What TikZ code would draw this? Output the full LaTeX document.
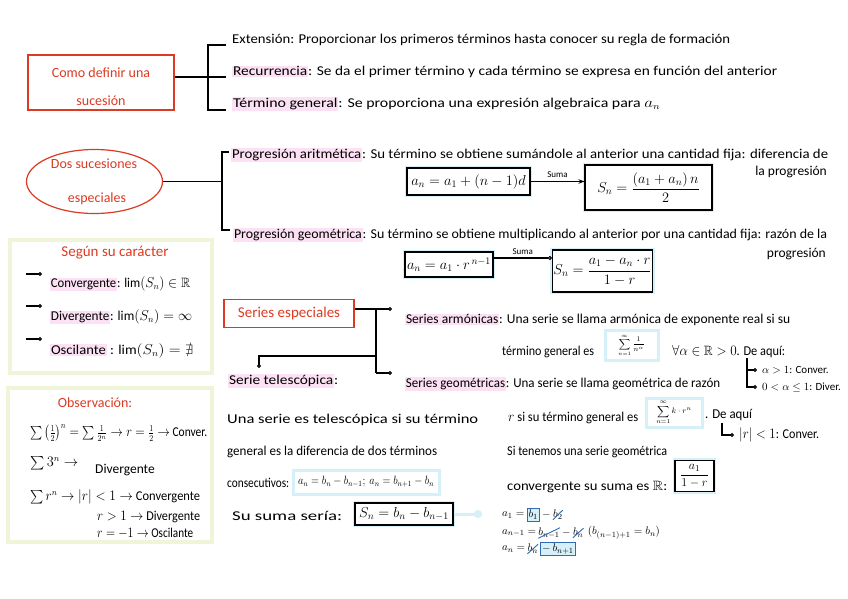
\documentclass[tikz,border=0pt]{standalone}
\usepackage{amsmath,amssymb}
\usepackage{graphicx}
\usepackage{fontspec}
\setmainfont{Carlito}
\usetikzlibrary{arrows.meta,shapes.geometric,positioning}
\definecolor{myred}{HTML}{DC3A22}
\definecolor{hl}{HTML}{FBE1F3}
\definecolor{lgreen}{HTML}{EEF5D9}
\definecolor{lblue}{HTML}{D6F0FA}
\definecolor{mblue}{HTML}{2F6CB3}
\newcommand\hlw[1]{{\setlength{\fboxsep}{0.8pt}\colorbox{hl}{#1}}}
\newcommand\fitw[2]{\resizebox{#1}{\height}{#2}}
\tikzset{
  txt/.style={anchor=west, inner sep=0pt, font=\fontsize{13.5}{16}\selectfont},
  small/.style={font=\fontsize{11}{13}\selectfont},
  redtxt/.style={text=myred, font=\fontsize{14}{16}\selectfont, inner sep=0pt},
  redframe/.style={draw=myred, line width=1.2pt, inner sep=0pt},
  conn/.style={line width=1.1pt, black},
  tipo/.style={-{Circle[open, length=4pt, width=4pt]}},
  frm/.style={draw=black, line width=1.1pt, inner sep=1pt, preaction={draw=lblue, line width=4.5pt}, fill=white, font=\fontsize{14}{16}\selectfont},
  lbbox/.style={draw=lblue, line width=3pt, fill=white, inner sep=0.5pt},
  greenbox/.style={draw=lgreen, line width=3.5pt, inner sep=0pt},
  bbox/.style={draw=mblue, line width=1pt, fill=lblue, inner sep=1.5pt},
  slash/.style={draw=mblue, line width=0.9pt},
}
\begin{document}
\begin{tikzpicture}[x=1pt,y=-1pt]
\useasboundingbox[fill=white] (0,0) rectangle (848,599);

% ---------- Como definir una sucesion ----------
\node[redframe, minimum width=146pt, minimum height=55pt] (cdef) at (101,82.5) {};
\node[redtxt] (cdef1) at (101,73) {Como definir una};
\node[redtxt] (cdef2) at (101,101) {sucesión};
\coordinate (b1m) at (208,77);
\coordinate (b1t) at (208,45);
\coordinate (b1b) at (208,110);
\coordinate (e1) at (226,45);
\coordinate (e2) at (226,77);
\coordinate (e3) at (226,110);
\draw[conn] (cdef.east |- b1m) -- (b1m) -- (e2);
\draw[conn] (e1) -- (b1t) -- (b1b) -- (e3);
\node[txt] (ext) at (232,40) {\fitw{498pt}{Extensión: Proporcionar los primeros términos hasta conocer su regla de formación}};
\node[txt] (rec) at (232,72) {\fitw{545pt}{\hlw{Recurrencia}: Se da el primer término y cada término se expresa en función del anterior}};
\node[txt] (tg) at (232,104) {\fitw{428pt}{\hlw{Término general}: Se proporciona una expresión algebraica para $a_n$}};

% ---------- Dos sucesiones especiales ----------
\node[ellipse, draw=myred, line width=1.2pt, minimum width=136pt, minimum height=64pt, inner sep=0pt] (dos) at (94.5,181.5) {};
\node[redtxt] (dos1) at (94,164) {Dos sucesiones};
\node[redtxt] (dos2) at (97,199) {especiales};
\coordinate (b2t) at (222,152);
\coordinate (b2b) at (222,230);
\coordinate (e4) at (229,152);
\coordinate (e5) at (230,230);
\draw[conn] (dos.east) -- (dos.east -| b2t);
\draw[conn] (e4) -- (b2t) -- (b2b) -- (e5);
\node[txt] (pa) at (231,155) {\fitw{597pt}{\hlw{Progresión aritmética}: Su término se obtiene sumándole al anterior una cantidad fija: diferencia de}};
\node[txt, anchor=east] (pa2) at (827,172) {la progresión};
\node[frm, minimum width=123pt, minimum height=27pt] (f1) at (468.5,181.5) {$a_n = a_1 + (n-1)d$};
\node[frm, minimum width=127pt, minimum height=45pt] (f2) at (648.5,187.5) {$S_n = \dfrac{(a_1+a_n)\,n}{2}$};
\draw[conn, -{Stealth[length=6pt]}] (f1.east) -- (f1.east -| f2.west) node[midway, above, font=\fontsize{9}{10}\selectfont] {Suma};

\node[txt] (pg) at (233,235) {\fitw{594pt}{\hlw{Progresión geométrica}: Su término se obtiene multiplicando al anterior por una cantidad fija: razón de la}};
\node[txt, anchor=east] (pg2) at (826,254) {progresión};
\node[frm, minimum width=88pt, minimum height=25pt] (f3) at (449,264.5) {$a_n = a_1\cdot r^{\,n-1}$};
\node[frm, minimum width=95pt, minimum height=42pt] (f4) at (602.5,271) {$S_n = \dfrac{a_1 - a_n\cdot r}{1-r}$};
\coordinate (y258) at (0,258);
\draw[conn, tipo] (f3.east |- y258) -- (f4.west |- y258) node[midway, above, font=\fontsize{9}{10}\selectfont] {Suma};

% ---------- Segun su caracter ----------
\node[greenbox, minimum width=202pt, minimum height=133pt] (sc) at (111,306.5) {};
\node[redtxt, font=\fontsize{15}{17}\selectfont] (sct) at (115,253) {Según su carácter};
\coordinate (a1s) at (26,274); \coordinate (a1e) at (42,274);
\coordinate (a2s) at (26,306); \coordinate (a2e) at (42,306);
\coordinate (a3s) at (26,339); \coordinate (a3e) at (42,339);
\draw[conn, tipo] (a1s) -- (a1e);
\draw[conn, tipo] (a2s) -- (a2e);
\draw[conn, tipo] (a3s) -- (a3e);
\node[txt] (cv) at (50,284) {\fitw{140pt}{\hlw{Convergente}: $\lim(S_n)\in\mathbb{R}$}};
\node[txt] (dv) at (50,317) {\fitw{142pt}{\hlw{Divergente}: $\lim(S_n) = \infty$}};
\node[txt] (os) at (50,351) {\fitw{143pt}{\hlw{Oscilante} : $\lim(S_n) = \nexists$}};

% ---------- Series especiales ----------
\node[redframe, minimum width=130pt, minimum height=28pt, text=myred, font=\fontsize{15}{17}\selectfont] (se) at (289,313.5) {Series especiales};
\coordinate (tr) at (376,309);
\coordinate (trb) at (376,373);
\coordinate (trm) at (376,356);
\coordinate (sa0) at (392,309);
\coordinate (sg0) at (392,373);
\coordinate (st0) at (259,368);
\draw[conn, tipo] (se.east |- sa0) -- (sa0);
\draw[conn] (tr) -- (trb);
\draw[conn, tipo] (trb) -- (sg0);
\draw[conn, tipo] (trm) -| (st0);

\node[txt] (sa) at (405,320) {\fitw{385pt}{\hlw{Series armónicas}: Una serie se llama armónica de exponente real si su}};
\node[txt] (sa2) at (502,352) {\fitw{92pt}{término general es}};
\node[lbbox, minimum width=53pt, minimum height=30pt, font=\fontsize{7.5}{8}\selectfont] (hsum) at (631.5,345) {$\displaystyle\sum_{n=1}^{\infty}\frac{1}{n^{\alpha}}$};
\node[txt] (fa) at (672,352) {\fitw{113pt}{$\forall\alpha\in\mathbb{R}>0$. De aquí:}};
\coordinate (t1) at (747,358);
\coordinate (tA) at (757,370);
\coordinate (tB) at (757,387);
\draw[conn, tipo] (t1) |- (tA);
\draw[conn, tipo] (t1) |- (tB);
\node[txt, small] (hc) at (762,370) {$\alpha>1$: Conver.};
\node[txt, small] (hd) at (762,387) {$0<\alpha\leq 1$: Diver.};

\node[txt] (sg) at (405,384) {\fitw{315pt}{\hlw{Series geométricas}: Una serie se llama geométrica de razón}};
\node[txt] (sg2) at (508,418) {\fitw{130pt}{$r$ si su término general es}};
\node[lbbox, minimum width=56pt, minimum height=29pt, font=\fontsize{8}{9}\selectfont] (gsum) at (674,412.5) {$\displaystyle\sum_{n=1}^{\infty} k\cdot r^n$};
\node[txt] (da) at (705,415) {\fitw{47pt}{. De aquí}};
\coordinate (t2) at (722,423);
\coordinate (tC) at (734,435);
\draw[conn, tipo] (t2) |- (tC);
\node[txt] (gc) at (739,435) {\fitw{80pt}{$|r|<1$: Conver.}};
\node[txt] (stg) at (507,452) {\fitw{160pt}{Si tenemos una serie geométrica}};
\node[txt] (conv) at (507,487) {\fitw{160pt}{convergente su suma es $\mathbb{R}$:}};
\node[frm, minimum width=39pt, minimum height=31pt, font=\fontsize{13}{15}\selectfont] (gs) at (694.5,476) {$\dfrac{a_1}{1-r}$};

% ---------- Serie telescopica ----------
\node[txt] (stl) at (228,381) {\fitw{110pt}{\hlw{Serie telescópica}:}};
\node[txt] (st1) at (227,420) {\fitw{251pt}{Una serie es telescópica si su término}};
\node[txt] (st2) at (227,452) {\fitw{210pt}{general es la diferencia de dos términos}};
\node[txt] (cons) at (227,483) {\fitw{62pt}{consecutivos:}};
\node[lbbox, minimum width=146pt, minimum height=24pt, font=\fontsize{12}{14}\selectfont] (cbox) at (366,482) {\fitw{136pt}{$a_n = b_n - b_{n-1};\ a_n = b_{n+1} - b_n$}};
\node[txt] (ss) at (232,516) {\fitw{110pt}{Su suma sería:}};
\node[frm, minimum width=98pt, minimum height=22pt] (sbox) at (404,514) {$S_n = b_n - b_{n-1}$};
\coordinate (sarr) at (482,514);
\draw[draw=lblue, line width=3pt, -{Circle[length=8pt, width=8pt]}] (sbox.east) -- (sarr);

\node[txt, small] (l1a) at (502,515) {$a_1 =$};
\node[bbox, small, right=2pt of l1a] (l1b) {$b_1$};
\node[txt, small, right=2pt of l1b] (l1c) {$-$};
\node[txt, small, right=2pt of l1c] (l1d) {$b_2$};
\draw[slash] (l1d.south west) -- (l1d.north east);

\node[txt, small] (l2a) at (502,533) {$a_{n-1} =$};
\node[txt, small, right=2pt of l2a] (l2b) {$b_{n-1}$};
\node[txt, small, right=2pt of l2b] (l2c) {$-$};
\node[txt, small, right=2pt of l2c] (l2d) {$b_n$};
\node[txt, small, right=4pt of l2d] (l2e) {$(b_{(n-1)+1} = b_n)$};
\draw[slash] (l2b.south west) -- (l2b.north east);
\draw[slash] (l2d.south west) -- (l2d.north east);

\node[txt, small] (l3a) at (502,549) {$a_n =$};
\node[txt, small, right=2pt of l3a] (l3b) {$b_n$};
\node[bbox, small, right=2pt of l3b] (l3c) {$-\,b_{n+1}$};
\draw[slash] (l3b.south west) -- (l3b.north east);

% ---------- Observacion ----------
\node[greenbox, minimum width=204pt, minimum height=154pt] (ob) at (110,465) {};
\node[redtxt] (obt) at (95,403) {Observación:};
\node[txt] (o1) at (30,433) {\fitw{177pt}{$\sum\left(\frac{1}{2}\right)^{n} = \sum\frac{1}{2^n} \to r = \frac{1}{2} \to$ Conver.}};
\node[txt] (o2) at (30,463) {$\sum 3^n \to$};
\node[txt] (o2b) at (95,470) {Divergente};
\node[txt] (o3) at (30,497) {\fitw{170pt}{$\sum r^n \to |r|<1 \to$ Convergente}};
\node[txt] (o4) at (97,517) {\fitw{103pt}{$r>1 \to$ Divergente}};
\node[txt] (o5) at (97,533) {\fitw{96pt}{$r=-1 \to$ Oscilante}};
\end{tikzpicture}
\end{document}
